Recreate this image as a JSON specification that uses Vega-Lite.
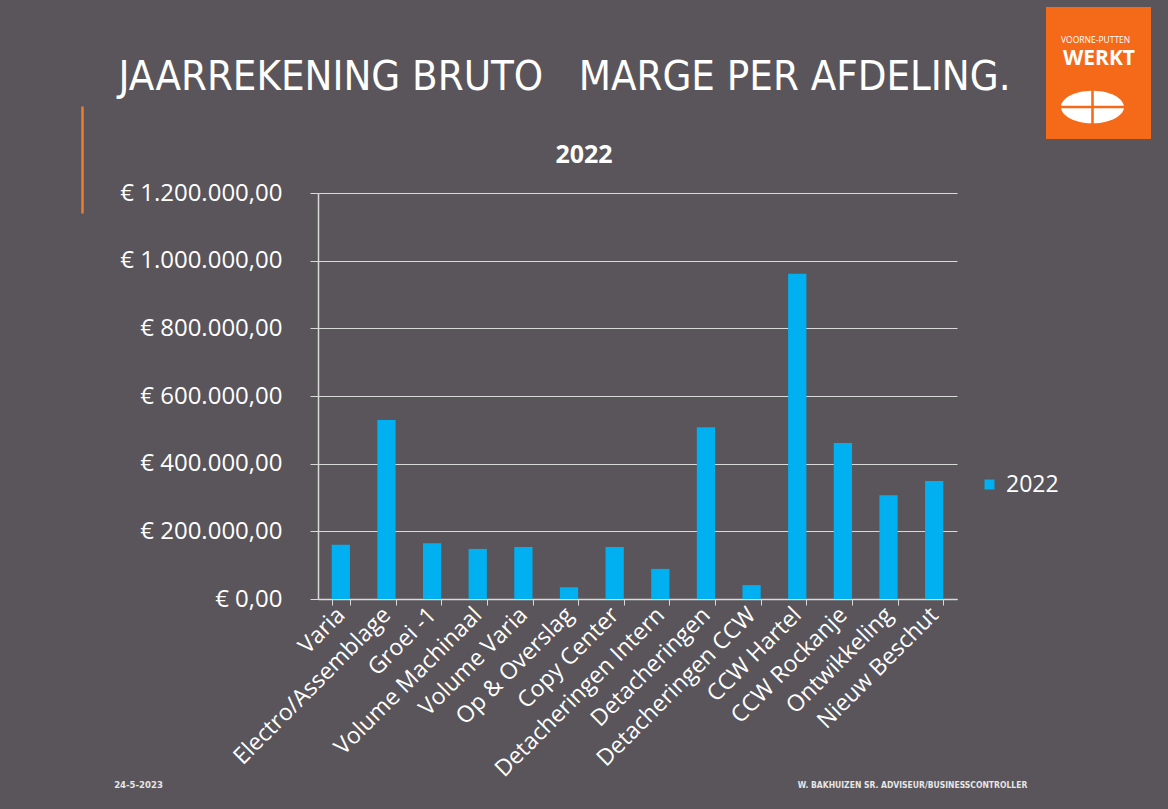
{
  "$schema": "https://vega.github.io/schema/vega-lite/v6.json",
  "width": 639,
  "height": 406,
  "autosize": {"type": "none"},
  "padding": {"left": 318, "top": 193, "right": 211, "bottom": 210},
  "background": "#59555A",
  "config": {
    "locale": {"number": {"decimal": ",", "thousands": ".", "grouping": [3], "currency": ["€ ", ""]}},
    "view": {"stroke": null},
    "font": "Open Sans"
  },
  "title": {
    "text": "JAARREKENING BRUTO\u00a0\u00a0 MARGE PER AFDELING.",
    "subtitle": "\u200b\u00a0\u00a0\u00a0\u00a0\u00a0\u00a02022",
    "anchor": "middle",
    "frame": "group",
    "dx": -73,
    "dy": 186,
    "font": "DejaVu Sans Condensed, Liberation Sans Narrow, Roboto",
    "fontSize": 41.5,
    "fontWeight": "normal",
    "color": "#FFFFFF",
    "subtitleFont": "Open Sans",
    "subtitleFontSize": 25,
    "subtitleFontWeight": "bold",
    "subtitleColor": "#FFFFFF",
    "subtitlePadding": 45,
    "offset": 25
  },
  "data": {
    "values": [
      {"afdeling": "Varia", "marge": 160000, "jaar": "2022"},
      {"afdeling": "Electro/Assemblage", "marge": 529000, "jaar": "2022"},
      {"afdeling": "Groei -1", "marge": 165000, "jaar": "2022"},
      {"afdeling": "Volume Machinaal", "marge": 148000, "jaar": "2022"},
      {"afdeling": "Volume Varia", "marge": 154000, "jaar": "2022"},
      {"afdeling": "Op & Overslag", "marge": 35000, "jaar": "2022"},
      {"afdeling": "Copy Center", "marge": 154000, "jaar": "2022"},
      {"afdeling": "Detacheringen Intern", "marge": 89000, "jaar": "2022"},
      {"afdeling": "Detacheringen", "marge": 508000, "jaar": "2022"},
      {"afdeling": "Detacheringen CCW", "marge": 41000, "jaar": "2022"},
      {"afdeling": "CCW Hartel", "marge": 961000, "jaar": "2022"},
      {"afdeling": "CCW Rockanje", "marge": 461000, "jaar": "2022"},
      {"afdeling": "Ontwikkeling", "marge": 307000, "jaar": "2022"},
      {"afdeling": "Nieuw Beschut", "marge": 349000, "jaar": "2022"}
    ]
  },
  "mark": {"type": "bar"},
  "encoding": {
    "x": {
      "field": "afdeling",
      "type": "nominal",
      "sort": null,
      "scale": {"paddingInner": 0.6, "paddingOuter": 0.3},
      "axis": {
        "labelAngle": -45,
        "labelAlign": "right",
        "labelBaseline": "middle",
        "labelFont": "Open Sans",
        "labelFontSize": 23,
        "labelColor": "#FFFFFF",
        "labelPadding": 6,
        "labelLimit": 400,
        "tickBand": "extent",
        "tickSize": 6,
        "tickColor": "#D9D9D9",
        "domainColor": "#D9D9D9",
        "domainWidth": 1.5,
        "title": "W. BAKHUIZEN SR. ADVISEUR/BUSINESSCONTROLLER",
        "titleX": 594,
        "titleY": 188,
        "titleAlign": "center",
        "titleBaseline": "alphabetic",
        "titleFont": "DejaVu Sans Condensed, Liberation Sans Narrow, Roboto",
        "titleFontSize": 8.5,
        "titleFontWeight": "bold",
        "titleColor": "#E6E6E6"
      }
    },
    "y": {
      "field": "marge",
      "type": "quantitative",
      "scale": {"domain": [0, 1200000]},
      "axis": {
        "values": [0, 200000, 400000, 600000, 800000, 1000000, 1200000],
        "format": "$,.2f",
        "labelFont": "Open Sans",
        "labelFontSize": 24,
        "labelColor": "#FFFFFF",
        "labelPadding": 28,
        "tickSize": 8,
        "tickColor": "#D9D9D9",
        "domainColor": "#D9D9D9",
        "domainWidth": 1.5,
        "grid": true,
        "gridColor": "#D9D9D9",
        "gridWidth": 1.2,
        "title": "24-5-2023",
        "titleAngle": 0,
        "titleX": -180,
        "titleY": 594,
        "titleAlign": "center",
        "titleBaseline": "alphabetic",
        "titleFont": "DejaVu Sans Condensed, Liberation Sans Narrow, Roboto",
        "titleFontSize": 9.5,
        "titleFontWeight": "bold",
        "titleColor": "#E6E6E6"
      }
    },
    "color": {
      "field": "jaar",
      "type": "nominal",
      "scale": {"range": ["#00B0F0"]},
      "legend": {
        "title": null,
        "orient": "none",
        "legendX": 660,
        "legendY": 280,
        "labelFont": "Open Sans",
        "labelFontSize": 23,
        "labelColor": "#FFFFFF",
        "symbolType": "square",
        "symbolSize": 100,
        "symbolStrokeWidth": 0,
        "labelOffset": 5
      }
    },
    "strokeDash": {
      "datum": "lijn",
      "type": "nominal",
      "scale": {"range": [[1, 0]]},
      "legend": {
        "title": null,
        "orient": "none",
        "legendX": -290.5,
        "legendY": -88,
        "padding": 0,
        "labelExpr": "''",
        "symbolType": "M0,-1L0,1",
        "symbolSize": 11449,
        "symbolStrokeColor": "#ED7D31",
        "symbolStrokeWidth": 2.5,
        "symbolFillColor": "transparent"
      }
    },
    "opacity": {
      "datum": "icon",
      "type": "ordinal",
      "scale": {"domain": ["WERKT", "icon"], "range": [0.001, 1]},
      "legend": {
        "title": ["\u200b", "VOORNE-PUTTEN"],
        "orient": "none",
        "legendX": 728,
        "legendY": -186,
        "fillColor": "#F46A19",
        "padding": 15,
        "values": ["WERKT", "icon"],
        "titleFont": "Open Sans",
        "titleFontSize": 8.5,
        "titleLineHeight": 14,
        "titleFontWeight": "normal",
        "titleColor": "#FFFFFF",
        "titlePadding": -17,
        "labelExpr": "datum.label == 'icon' ? '' : datum.label",
        "labelFont": "Open Sans",
        "labelFontSize": 21,
        "labelFontWeight": "bold",
        "labelColor": "#FFFFFF",
        "labelOffset": -61,
        "rowPadding": -38,
        "symbolType": "M-0.04,-0.04 L-0.04,-0.519 A1,0.52 0 0,0 -0.997,-0.04 Z M0.04,-0.04 L0.997,-0.04 A1,0.52 0 0,0 0.04,-0.519 Z M-0.04,0.04 L-0.997,0.04 A1,0.52 0 0,0 -0.04,0.519 Z M0.04,0.04 L0.04,0.519 A1,0.52 0 0,0 0.997,0.04 Z",
        "symbolSize": 3969,
        "symbolFillColor": "#FFFFFF",
        "symbolStrokeWidth": 0
      }
    }
  }
}
